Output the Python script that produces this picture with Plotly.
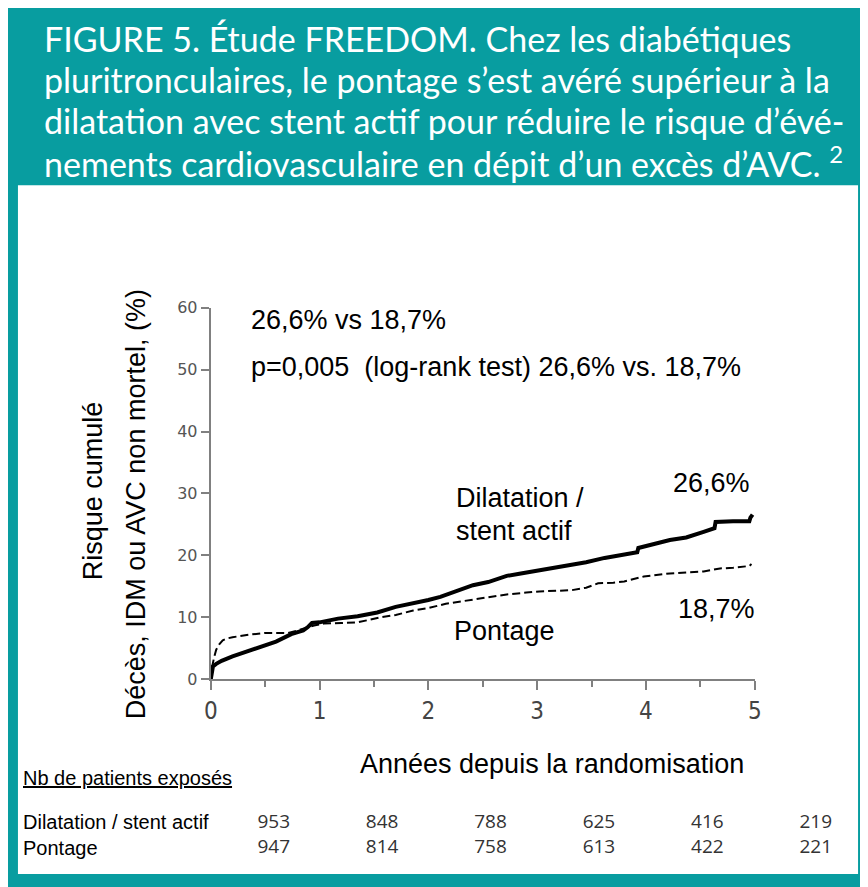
import plotly.graph_objects as go

# Reference canvas is 868x887. The page body keeps its default 8px margin,
# so the figure starts 8px in; reference pixel coordinates are shifted by OFF.
REF_W, REF_H = 868, 887
OFF = 8
W, H = REF_W - OFF, REF_H - OFF

# ---- data ----
t_stent = [0, 0.01, 0.02, 0.05, 0.1, 0.2, 0.3, 0.4, 0.5, 0.6, 0.74, 0.85, 0.89, 0.93, 1.0, 1.17, 1.35,
           1.53, 1.7, 1.85, 2.0, 2.11, 2.25, 2.41, 2.55, 2.72, 2.85, 3.02, 3.15, 3.32, 3.45, 3.62,
           3.75, 3.92, 3.93, 4.05, 4.22, 4.37, 4.45, 4.53, 4.63, 4.64, 4.8, 4.95, 4.96, 4.98]
v_stent = [0, 1.4, 2.1, 2.5, 3.0, 3.7, 4.3, 4.9, 5.5, 6.1, 7.3, 7.9, 8.4, 9.1, 9.2, 9.8, 10.2,
           10.8, 11.7, 12.2, 12.8, 13.3, 14.2, 15.2, 15.7, 16.7, 17.1, 17.6, 17.9, 18.4, 18.9, 19.6,
           20.0, 20.5, 21.2, 21.8, 22.5, 22.9, 23.3, 23.8, 24.4, 25.4, 25.5, 25.5, 26.1, 26.6]

t_pont = [0, 0.01, 0.03, 0.05, 0.08, 0.11, 0.15, 0.2, 0.35, 0.5, 0.71, 0.8, 0.95, 1.04, 1.2, 1.35, 1.56,
          1.7, 1.86, 2.0, 2.16, 2.41, 2.55, 2.72, 2.9, 3.02, 3.2, 3.32, 3.45, 3.56, 3.7, 3.8, 3.98,
          4.1, 4.22, 4.4, 4.53, 4.68, 4.8, 4.95, 4.97]
v_pont = [0, 1.8, 3.5, 4.8, 5.7, 6.3, 6.6, 6.8, 7.2, 7.5, 7.5, 7.9, 8.7, 9.0, 9.1, 9.2, 10.0,
          10.4, 11.1, 11.5, 12.2, 12.9, 13.3, 13.7, 14.0, 14.2, 14.3, 14.4, 14.8, 15.5, 15.6, 15.8, 16.6,
          16.9, 17.1, 17.3, 17.4, 17.9, 18.0, 18.3, 18.6]

years = [0, 1, 2, 3, 4, 5]
risk_stent = [953, 848, 788, 625, 416, 219]
risk_pont = [947, 814, 758, 613, 422, 221]

TEAL = "#089DA0"


def px(x):
    return (x - OFF) / W


def py(y):
    return 1 - (y - OFF) / H


fig = go.Figure()

fig.add_trace(go.Scatter(x=t_pont, y=v_pont, mode="lines",
                         line=dict(color="black", width=2, dash="8px,4px"),
                         showlegend=False, hoverinfo="skip"))
fig.add_trace(go.Scatter(x=t_stent, y=v_stent, mode="lines",
                         line=dict(color="black", width=4),
                         showlegend=False, hoverinfo="skip"))

num_font = dict(family="Open Sans, DejaVu Sans, sans-serif", size=19, color="#333333")
fig.add_trace(go.Scatter(x=years, y=[1.5] * 6, text=[str(v) for v in risk_stent], mode="text",
                         textfont=num_font, xaxis="x2", yaxis="y2", showlegend=False,
                         hoverinfo="skip", cliponaxis=False))
fig.add_trace(go.Scatter(x=years, y=[0.5] * 6, text=[str(v) for v in risk_pont], mode="text",
                         textfont=num_font, xaxis="x2", yaxis="y2", showlegend=False,
                         hoverinfo="skip", cliponaxis=False))

axis_gray = "#808080"
fig.update_layout(
    width=W, height=H,
    margin=dict(l=0, r=0, t=0, b=0),
    paper_bgcolor=TEAL,
    plot_bgcolor="rgba(0,0,0,0)",
    xaxis=dict(domain=[px(207), px(760)], range=[0, 5], showgrid=False, zeroline=False,
               showline=True, linecolor=axis_gray, linewidth=2,
               ticks="outside", ticklen=9, tickwidth=2, tickcolor=axis_gray,
               tickvals=years,
               tickfont=dict(family="Liberation Sans Narrow, DejaVu Sans Condensed, sans-serif",
                             size=24, color="#444444"),
               minor=dict(dtick=0.5, ticks="outside", ticklen=6, tickwidth=2, tickcolor=axis_gray),
               anchor="y"),
    yaxis=dict(domain=[py(685), py(305)], range=[0, 60], showgrid=False, zeroline=False,
               showline=True, linecolor=axis_gray, linewidth=2,
               ticks="outside", ticklen=8, tickwidth=2, tickcolor=axis_gray,
               tickvals=[0, 10, 20, 30, 40, 50, 60],
               tickfont=dict(family="DejaVu Sans, sans-serif", size=16, color="#555555"),
               anchor="x"),
    xaxis2=dict(domain=[px(271), px(822)], range=[0, 5], visible=False, anchor="y2"),
    yaxis2=dict(domain=[py(870), py(820)], range=[0, 2], visible=False, anchor="x2"),
)

# white panel inside the teal frame
fig.add_shape(type="rect", xref="paper", yref="paper", x0=px(11), x1=px(865), y0=py(884), y1=py(180),
              fillcolor="white", line=dict(width=0), layer="below")

ann = []
head_font = dict(family="Lato, Open Sans, sans-serif", size=34, color="white")
head_lines = [
    "FIGURE 5. Étude FREEDOM. Chez les diabétiques",
    "pluritronculaires, le pontage s’est avéré supérieur à la",
    "dilatation avec stent actif pour réduire le risque d’évé-",
    "nements cardiovasculaire en dépit d’un excès d’AVC. <sup>2</sup>",
]
for i, line in enumerate(head_lines):
    ann.append(dict(text=line, x=px(35), y=py(30 + 42 * i), xref="paper", yref="paper",
                    xanchor="left", yanchor="middle", showarrow=False, font=head_font))

tf = dict(family="Liberation Sans, Arial, sans-serif", size=27, color="black")
body = [
    dict(text="26,6% vs 18,7%", x=px(246), y=py(318), xanchor="left"),
    dict(text="p=0,005  (log-rank test) 26,6% vs. 18,7%", x=px(246), y=py(366), xanchor="left"),
    dict(text="Dilatation /", x=px(454), y=py(500), xanchor="left"),
    dict(text="stent actif", x=px(454), y=py(533), xanchor="left"),
    dict(text="26,6%", x=px(757), y=py(484), xanchor="right"),
    dict(text="18,7%", x=px(762), y=py(613), xanchor="right"),
    dict(text="Pontage", x=px(452), y=py(636), xanchor="left"),
    dict(text="Années depuis la randomisation", x=px(554), y=py(772), xanchor="center"),
    dict(text="Risque cumulé", x=px(87), y=py(492), xanchor="center", textangle=-90),
    dict(text="Décès, IDM ou AVC non mortel, (%)", x=px(131), y=py(506), xanchor="center",
         textangle=-90),
]
for a in body:
    a.update(xref="paper", yref="paper", showarrow=False, yanchor="middle", font=tf)
ann += body

lf = dict(family="Liberation Sans, Arial, sans-serif", size=20, color="black")
for text, y in [("<u>Nb de patients exposés</u>", 786), ("Dilatation / stent actif", 831),
                ("Pontage", 857)]:
    ann.append(dict(text=text, x=px(14), y=py(y), xref="paper", yref="paper", xanchor="left",
                    yanchor="middle", showarrow=False, font=lf))

fig.update_layout(annotations=ann)

fig.write_html("out.html", config={"displayModeBar": False})
